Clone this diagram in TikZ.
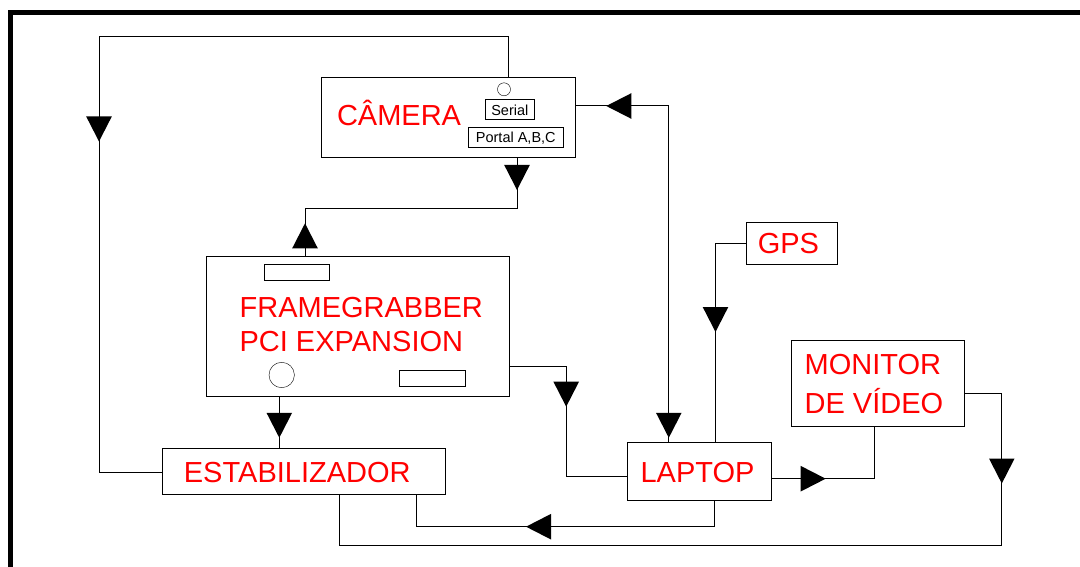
\documentclass[tikz,border=0pt]{standalone}
\usepackage{fontspec}
\setmainfont{Liberation Sans}
\usetikzlibrary{fit}

\tikzset{
  box/.style={draw, line width=1pt, inner sep=0pt, outer sep=0pt},
  lbl/.style={text=red, font=\fontsize{29}{34}\selectfont, inner sep=0pt, anchor=base west},
  tag/.style={font=\fontsize{14.5}{16}\selectfont, inner sep=0pt},
  wire/.style={line width=1pt},
  tri/.pic={\fill (-12.5,-12.8) -- (12.5,0) -- (-12.5,12.8) -- cycle;}
}

\begin{document}
\begin{tikzpicture}[x=1pt, y=-1pt]
        \useasboundingbox (0,0) rectangle (1080,567);

        % Frame
        \draw[line width=5pt] (10.5,567) -- (10.5,12.5) -- (1080,12.5);

        % Blocks
        \node[box, fit={(321.3,78) (575.3,158)}] (cam) {};
        \node[box, fit={(485.3,99.7) (534.3,120)}] (serial) {};
        \node[box, fit={(468.3,127.7) (563.3,148)}] (portal) {};
        \node[draw, circle, minimum size=13pt, inner sep=0pt] (camport) at (504,89.3) {};

        \node[box, fit={(206.7,256) (509.3,396)}] (fg) {};
        \node[box, fit={(264,264.3) (329.3,280.7)}] (fgslotA) {};
        \node[box, fit={(399.3,370.3) (465.3,386.7)}] (fgslotB) {};
        \node[draw, circle, minimum size=25.4pt, inner sep=0pt] (fgport) at (281.7,375) {};

        \node[box, fit={(162.3,448.3) (445.3,494)}] (estab) {};
        \node[box, fit={(627.7,442.7) (771.7,500.7)}] (laptop) {};
        \node[box, fit={(746.7,222.3) (837.3,264.3)}] (gps) {};
        \node[box, fit={(791.5,340) (964.3,426)}] (monitor) {};

        % Labels
        \node[tag] (serialtxt) at (serial.center) {Serial};
        \node[tag] (portaltxt) at (portal.center) {Portal A,B,C};
        \node[lbl] (camtxt) at (336.8,126) {CÂMERA};
        \node[lbl] (fgtxtA) at (239.4,317.3) {FRAMEGRABBER};
        \node[lbl] (fgtxtB) at (239.4,351.7) {PCI EXPANSION};
        \node[lbl] (estabtxt) at (183.7,482.7) {ESTABILIZADOR};
        \node[lbl] (laptoptxt) at (640.4,482.7) {LAPTOP};
        \node[lbl] (gpstxt) at (757.6,253.3) {GPS};
        \node[lbl] (montxtA) at (804.4,374.3) {MONITOR};
        \node[lbl] (montxtB) at (804.4,413.3) {DE VÍDEO};

        % Wiring
        \draw[wire] (estab.west |- 0,472.7) -| (99,36.7) -| (508.3,0 |- cam.north);
        \draw[wire] (517,0 |- cam.south) |- (305,208.3) -- (305,0 |- fg.north);
        \draw[wire] (cam.east |- 0,106) -| (668.8,0 |- laptop.north);
        \draw[wire] (gps.west) -| (715.5,0 |- laptop.north);
        \draw[wire] (fg.east |- 0,366.7) -| (566.2,476.7) -- (laptop.west |- 0,476.7);
        \draw[wire] (279.3,0 |- fg.south) -- (279.3,0 |- estab.north);
        \draw[wire] (laptop.east |- 0,478.7) -| (874.5,0 |- monitor.south);
        \draw[wire] (monitor.east |- 0,393.3) -| (1001.8,545.8) -| (339,0 |- estab.south);
        \draw[wire] (714.3,0 |- laptop.south) |- (416,526.7) -- (416,0 |- estab.south);

        % Arrowheads
        \pic[rotate=-90] at (99,129) {tri};
        \pic[rotate=-90] at (517,177.5) {tri};
        \pic[rotate=180] at (618.8,106) {tri};
        \pic[rotate=90] at (305,235.8) {tri};
        \pic[rotate=-90] at (715.5,319.5) {tri};
        \pic[rotate=-90] at (566.2,394.2) {tri};
        \pic[rotate=-90] at (279.3,425.3) {tri};
        \pic[rotate=-90] at (668.8,425.3) {tri};
        \pic at (813.2,478.7) {tri};
        \pic[rotate=-90] at (1001.8,471) {tri};
        \pic[rotate=180] at (538.5,526.7) {tri};
    \end{tikzpicture}
\end{document}
